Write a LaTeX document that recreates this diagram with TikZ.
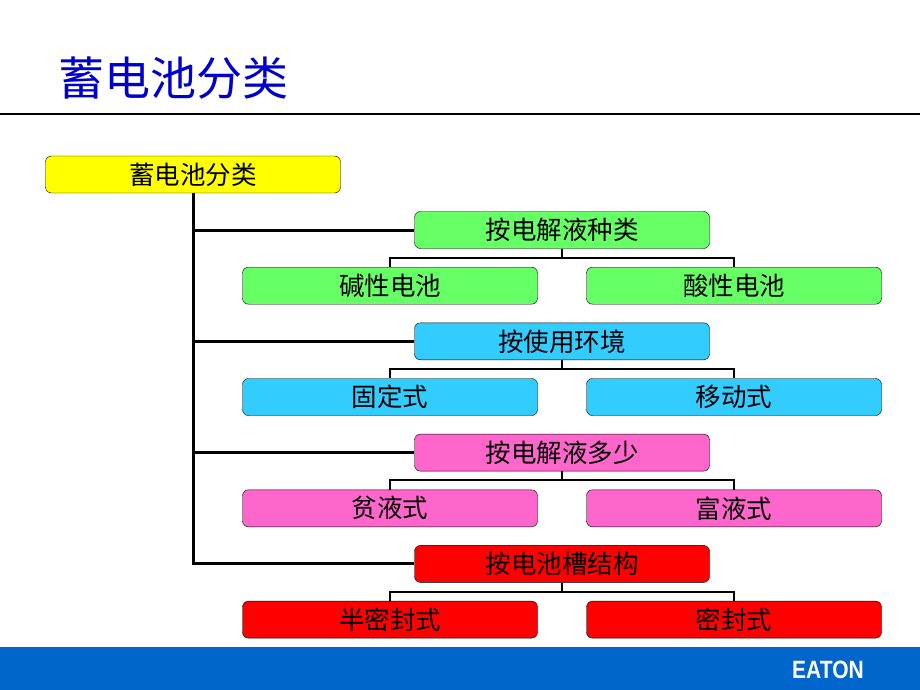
\documentclass[tikz,border=0pt]{standalone}
\usepackage{fontspec}
\setmainfont{Noto Sans CJK SC}
\newfontfamily\logofont{Liberation Sans}
\usetikzlibrary{positioning}
\definecolor{footblue}{HTML}{0066CC}
\definecolor{titleblue}{HTML}{0000CC}
\definecolor{rootyellow}{HTML}{FFFF00}
\definecolor{kindgreen}{HTML}{66FF66}
\definecolor{usecyan}{HTML}{33CCFF}
\definecolor{amountpink}{HTML}{FF66CC}
\definecolor{buildred}{HTML}{FF0000}
\tikzset{
	box/.style={draw, rectangle, rounded corners=6pt, inner sep=0pt, minimum width=295pt, minimum height=37pt, font=\fontsize{25.5}{25.5}\selectfont},
	root/.style={box, fill=rootyellow},
	kind/.style={box, fill=kindgreen},
	usage/.style={box, fill=usecyan},
	amount/.style={box, fill=amountpink},
	build/.style={box, fill=buildred},
	% left and right child under a heading box
	lchild/.style={below of=#1, xshift=-172pt},
	rchild/.style={below of=#1, xshift=172pt},
	trunk/.style={line width=3pt, black},
	branch/.style={line width=2.2pt, black},
}

\begin{document}
\begin{tikzpicture}[x=1pt, y=-1pt, node distance=55.7pt]
	\useasboundingbox (0,0) rectangle (920,690);

	\fill[footblue] (0,647) rectangle (920,690);
	\node (title) [anchor=west, inner sep=0pt, text=titleblue, font=\fontsize{46}{46}\selectfont] at (58,78) {蓄电池分类};
	\coordinate (ruleL) at (0,114);
	\coordinate (ruleR) at (920,114);
	\draw[branch] (ruleL) -- (ruleR);
	\node (logo) [anchor=center, inner sep=0pt, text=white, xscale=0.84, font=\logofont\bfseries\fontsize{25}{25}\selectfont] at (828,669.5) {EATON};

	\node (top) [root] at (193,174.5) {蓄电池分类};

	\node (a) [kind] at (562,230) {按电解液种类};
	\node (a1) [kind, lchild=a] {碱性电池};
	\node (a2) [kind, rchild=a] {酸性电池};

	\node (b) [usage, below of=a, yshift=-55.6pt] {按使用环境};
	\node (b1) [usage, lchild=b] {固定式};
	\node (b2) [usage, rchild=b] {移动式};

	\node (c) [amount, below of=b, yshift=-55.6pt] {按电解液多少};
	\node (c1) [amount, lchild=c] {贫液式};
	\node (c2) [amount, rchild=c] {富液式};

	\node (d) [build, below of=c, yshift=-55.6pt] {按电池槽结构};
	\node (d1) [build, lchild=d] {半密封式};
	\node (d2) [build, rchild=d] {密封式};

	\begin{scope}[trunk]
		\draw (top.south) |- (d.west);
		\draw (top.south) |- (a.west);
		\draw (top.south) |- (b.west);
		\draw (top.south) |- (c.west);
	\end{scope}

	\begin{scope}[branch]
		\draw (a.south) -- ++(0,9) -| (a1.north);
		\draw (a.south) -- ++(0,9) -| (a2.north);
		\draw (b.south) -- ++(0,9) -| (b1.north);
		\draw (b.south) -- ++(0,9) -| (b2.north);
		\draw (c.south) -- ++(0,9) -| (c1.north);
		\draw (c.south) -- ++(0,9) -| (c2.north);
		\draw (d.south) -- ++(0,9) -| (d1.north);
		\draw (d.south) -- ++(0,9) -| (d2.north);
	\end{scope}
\end{tikzpicture}
\end{document}
